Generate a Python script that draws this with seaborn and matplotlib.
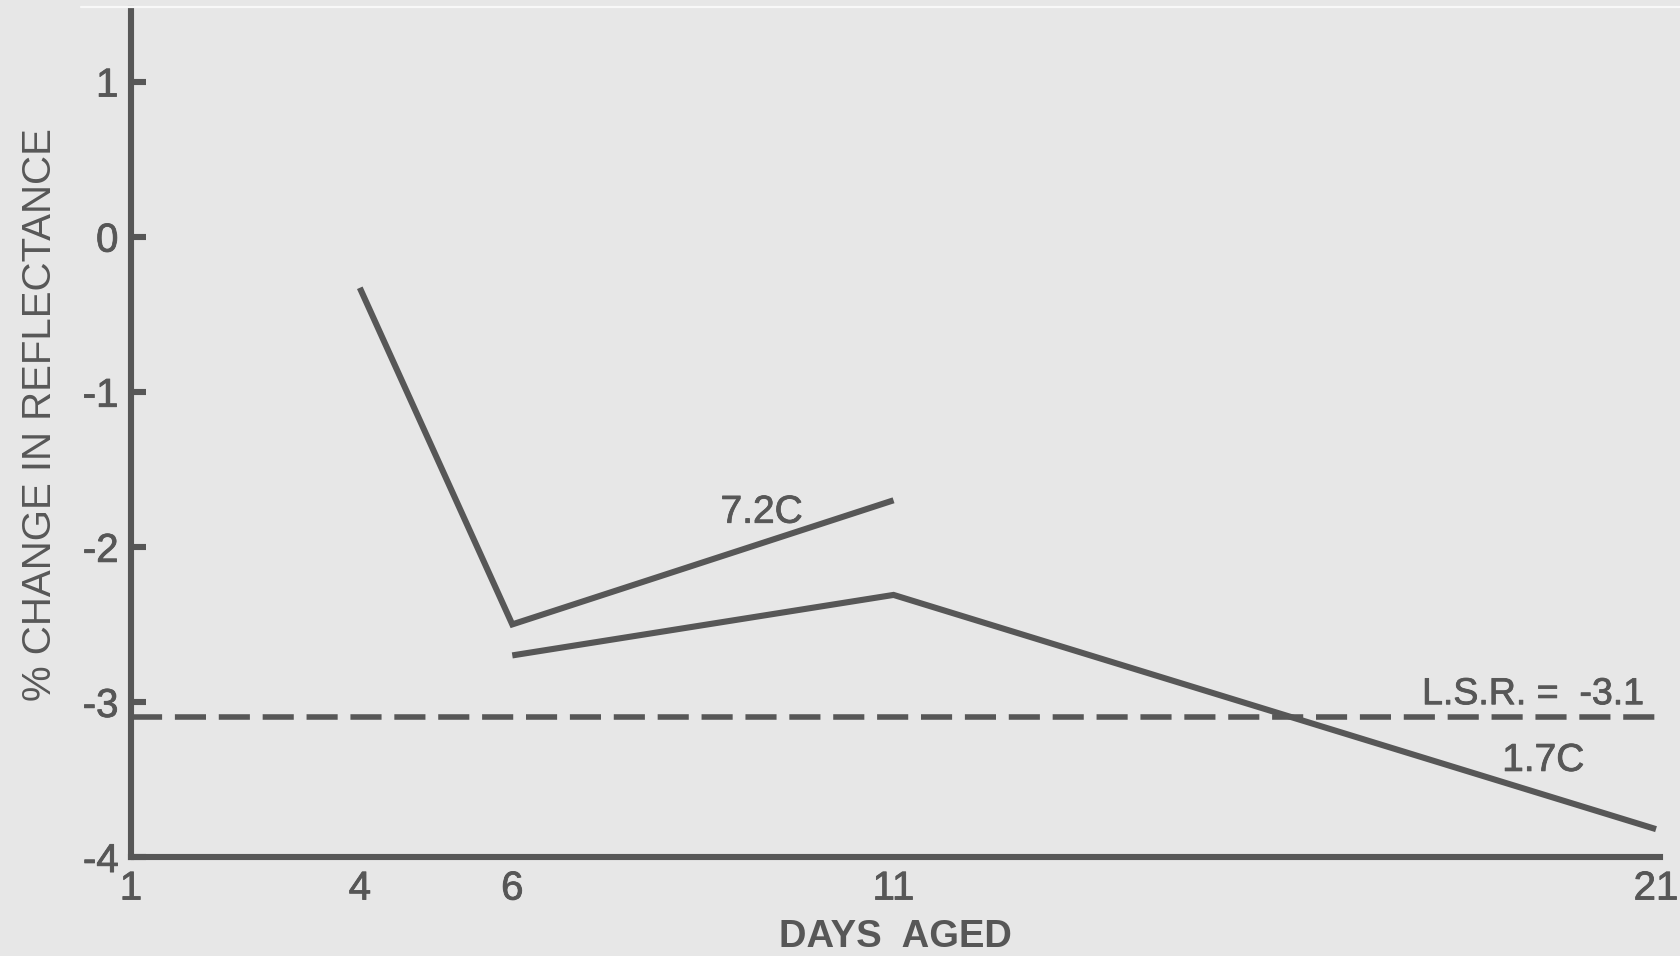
import numpy as np
import pandas as pd
import matplotlib
matplotlib.use("Agg")
import matplotlib.pyplot as plt
import matplotlib.patheffects as pe
import seaborn as sns
from matplotlib.lines import Line2D

# Reflectance change of aged samples at two storage temperatures
days_72 = [4, 6, 11]
change_72 = [-0.33, -2.50, -1.70]
days_17 = [6, 11, 21]
change_17 = [-2.70, -2.31, -3.82]
lsr_value = -3.1

x_ticks = [1, 4, 6, 11, 21]
y_ticks = [1, 0, -1, -2, -3, -4]
series_names = ["7.2C", "1.7C"]

df = pd.concat([
    pd.DataFrame({"days": days_72, "change": change_72, "temp": series_names[0]}),
    pd.DataFrame({"days": days_17, "change": change_17, "temp": series_names[1]}),
])

sns.set_theme(style="white")
plt.rcParams["font.family"] = ["Liberation Sans", "DejaVu Sans"]

ink = "#575757"
paper = "#e7e7e7"
heavy = [pe.withStroke(linewidth=0.6, foreground=ink)]

fig = plt.figure(figsize=(16.8, 9.56), dpi=100, facecolor=paper)
ax = fig.add_axes([0.078, 0.1035, 0.91, 0.8875])
ax.set_facecolor(paper)

sns.lineplot(data=df, x="days", y="change", hue="temp", units="temp",
             estimator=None, palette={n: ink for n in series_names},
             linewidth=4.4, legend=False, ax=ax, sort=False)
for ln in ax.get_lines():
    ln.set_solid_capstyle("butt")
    ln.set_solid_joinstyle("miter")

ax.axhline(lsr_value, color=ink, linewidth=4.0,
           linestyle=(0, (5.6, 2.3)), xmin=0, xmax=1)

ax.set_xlim(1, 21.05)
ax.set_ylim(-4, 1.47)
ax.set_xticks(x_ticks)
ax.set_xticklabels([str(t) for t in x_ticks])
ax.set_yticks(y_ticks)
ax.set_yticklabels([str(t) for t in y_ticks])

for side in ["top", "right"]:
    ax.spines[side].set_visible(False)
for side in ["left", "bottom"]:
    ax.spines[side].set_color(ink)
    ax.spines[side].set_linewidth(4.4)

ax.tick_params(axis="y", direction="in", length=11, width=4.4, color=ink,
               pad=9, labelsize=29, labelcolor=ink, left=True)
ax.tick_params(axis="x", length=0, pad=9, labelsize=29, labelcolor=ink)
for lbl in ax.get_xticklabels() + ax.get_yticklabels():
    lbl.set_path_effects(heavy)

ax.set_ylabel("% CHANGE IN REFLECTANCE", fontsize=29, color=ink)
ax.set_xlabel("DAYS  AGED", fontsize=27.5, color=ink, fontweight="bold", labelpad=8)
ax.yaxis.set_label_coords(-0.047, 0.521)

ax.text(9.27, -1.78, series_names[0], fontsize=28, color=ink,
        ha="center", va="center", path_effects=heavy)
ax.text(19.52, -3.38, series_names[1], fontsize=28, color=ink,
        ha="center", va="center", path_effects=heavy)
ax.text(20.84, -2.95, f"L.S.R. =  {lsr_value}", fontsize=27, color=ink,
        ha="right", va="center", path_effects=heavy)

# faint light streak along the top edge of the sheet
fig.add_artist(Line2D([0.048, 1.0], [0.9925, 0.9925], color="#f8f8f8",
                      linewidth=1.6, transform=fig.transFigure))

fig.savefig("out.png", dpi=100, facecolor=paper)
